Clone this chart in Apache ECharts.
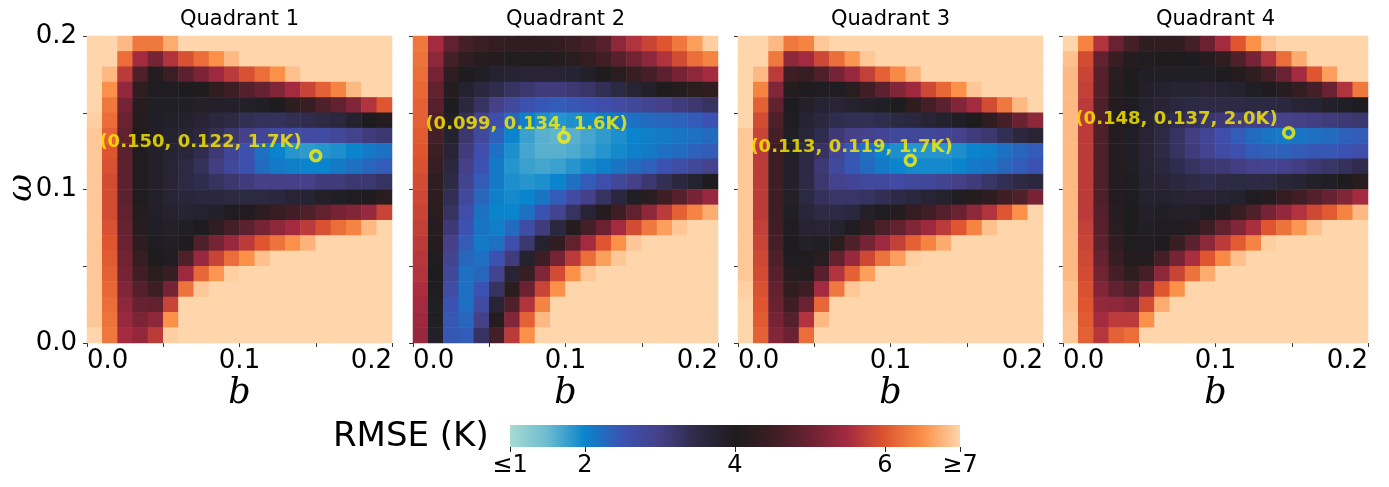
<!DOCTYPE html>
<html>
<head>
<meta charset="utf-8">
<title>RMSE quadrants</title>
<script src="https://cdn.jsdelivr.net/npm/echarts/dist/echarts.min.js"></script>
<style>
  html, body { margin: 0; padding: 0; background: #fff; }
  #chart { width: 1389px; height: 487px; }
</style>
</head>
<body>
<div id="chart"></div>
<script>
// panel titles
const titles = ['Quadrant 1', 'Quadrant 2', 'Quadrant 3', 'Quadrant 4'];

// cell centres of the 20 x 20 grid (b across, omega up)
const bCells = [0.005, 0.015, 0.025, 0.035, 0.045, 0.055, 0.065, 0.075, 0.085, 0.095,
  0.105, 0.115, 0.125, 0.135, 0.145, 0.155, 0.165, 0.175, 0.185, 0.195];
const wCells = [0.005, 0.015, 0.025, 0.035, 0.045, 0.055, 0.065, 0.075, 0.085, 0.095,
  0.105, 0.115, 0.125, 0.135, 0.145, 0.155, 0.165, 0.175, 0.185, 0.195];

// RMSE (K), rows from omega = 0.2 (top) down to 0
const q1 = [
  [7,7,6.8,6.3,6.3,6.7,7,7,7,7,7,7,7,7,7,7,7,7,7,7],
  [7,7,6.2,5.5,5.1,5.6,5.95,6.2,6.5,6.8,7,7,7,7,7,7,7,7,7,7],
  [7,6.8,5.7,4.7,4.1,4.45,4.85,5.15,5.45,5.7,5.95,6.2,6.5,6.85,7,7,7,7,7,7],
  [7,6.5,5.35,4.3,3.95,3.95,4.0,4.0,4.3,4.5,4.75,4.95,5.2,5.5,5.8,6.1,6.4,6.8,7,7],
  [7,6.3,5.1,4.15,3.9,3.9,3.9,3.85,3.85,3.85,3.85,3.9,4.0,4.25,4.4,4.7,4.9,5.2,5.6,6.0],
  [6.95,6.2,5.0,4.1,3.9,3.85,3.8,3.7,3.6,3.5,3.4,3.35,3.35,3.4,3.45,3.5,3.6,3.8,4.0,4.1],
  [6.9,6.1,4.9,4.05,3.88,3.8,3.7,3.6,3.4,3.2,3.0,2.85,2.7,2.7,2.7,2.7,2.8,2.95,3.1,3.2],
  [6.9,6.0,4.85,4.05,3.86,3.75,3.65,3.45,3.15,2.85,2.55,2.2,2.0,1.85,1.8,1.85,1.9,2.0,2.1,2.2],
  [6.9,5.95,4.85,4.05,3.85,3.72,3.55,3.35,3.05,2.8,2.55,2.25,2.1,2.05,2.0,2.0,2.1,2.2,2.3,2.4],
  [6.9,5.9,4.85,4.05,3.85,3.7,3.55,3.45,3.3,3.2,3.1,3.0,3.0,3.0,3.0,3.1,3.1,3.2,3.2,3.3],
  [6.9,5.9,4.85,4.05,3.86,3.72,3.65,3.6,3.6,3.55,3.55,3.55,3.6,3.7,3.75,3.85,3.9,3.95,4.0,4.2],
  [6.9,5.9,4.9,4.1,3.88,3.78,3.75,3.8,3.85,3.95,4.05,4.25,4.4,4.55,4.7,4.9,5.1,5.2,5.4,5.8],
  [6.9,5.95,4.95,4.15,3.9,3.85,3.9,4.0,4.3,4.6,4.85,5.1,5.3,5.5,5.7,5.95,6.2,6.4,6.8,7],
  [6.9,6.0,5.0,4.25,3.95,3.92,4.0,4.7,5.1,5.4,5.7,6.0,6.25,6.5,6.75,7,7,7,7,7],
  [6.9,6.05,5.05,4.4,4.0,3.98,4.7,5.4,5.8,6.2,6.5,6.85,7,7,7,7,7,7,7,7],
  [6.9,6.1,5.1,4.55,4.2,4.4,5.45,6.15,6.55,6.95,7,7,7,7,7,7,7,7,7,7],
  [6.9,6.15,5.2,4.75,4.5,5.1,6.25,6.9,7,7,7,7,7,7,7,7,7,7,7,7],
  [6.9,6.2,5.3,4.95,4.9,5.8,7,7,7,7,7,7,7,7,7,7,7,7,7,7],
  [6.9,6.25,5.4,5.15,5.3,6.5,7,7,7,7,7,7,7,7,7,7,7,7,7,7],
  [7,6.3,5.5,5.35,5.7,6.95,7,7,7,7,7,7,7,7,7,7,7,7,7,7]
];
const q2 = [
  [6.3,5.5,4.9,4.6,4.45,4.35,4.3,4.3,4.3,4.35,4.45,4.6,4.8,5.3,5.6,5.8,6.0,6.3,6.6,6.95],
  [6.25,5.3,4.6,4.3,4.15,4.1,4.05,4.05,4.05,4.1,4.2,4.35,4.55,4.8,5.05,5.3,5.6,5.9,6.2,6.4],
  [6.2,5.1,4.3,4.0,3.9,3.8,3.75,3.7,3.7,3.7,3.75,3.85,4.0,4.2,4.4,4.6,4.85,5.1,5.3,5.5],
  [6.15,4.9,4.1,3.8,3.6,3.45,3.3,3.2,3.1,3.1,3.15,3.25,3.4,3.55,3.7,3.85,4.0,4.1,4.2,4.3],
  [6.1,4.8,4.0,3.6,3.3,3.0,2.75,2.55,2.45,2.4,2.45,2.5,2.6,2.7,2.8,2.9,3.0,3.1,3.2,3.3],
  [6.1,4.7,3.9,3.4,2.95,2.6,2.3,2.05,1.9,1.85,1.9,1.95,2.05,2.1,2.2,2.25,2.3,2.35,2.4,2.5],
  [6.05,4.6,3.8,3.2,2.75,2.35,2.0,1.75,1.6,1.55,1.6,1.7,1.8,1.9,2.0,2.05,2.1,2.15,2.2,2.25],
  [6.0,4.5,3.7,3.1,2.6,2.2,1.9,1.7,1.6,1.6,1.65,1.75,1.85,1.95,2.05,2.1,2.2,2.25,2.35,2.4],
  [5.95,4.4,3.6,3.0,2.5,2.1,1.85,1.75,1.7,1.75,1.85,1.95,2.05,2.15,2.25,2.35,2.5,2.65,2.8,2.95],
  [5.9,4.3,3.5,2.9,2.4,2.1,1.9,1.85,1.9,2.0,2.2,2.4,2.6,2.8,3.0,3.2,3.4,3.6,3.8,4.0],
  [5.85,4.25,3.4,2.75,2.3,2.05,1.95,2.0,2.15,2.4,2.7,3.0,3.3,3.6,3.9,4.2,4.5,4.8,5.1,5.4],
  [5.8,4.2,3.3,2.6,2.2,2.0,2.0,2.2,2.5,2.9,3.3,3.7,4.1,4.5,4.9,5.3,5.7,6.1,6.4,6.7],
  [5.75,4.15,3.15,2.5,2.15,2.05,2.25,2.65,3.1,3.6,4.1,4.6,5.0,5.5,5.9,6.3,6.6,6.9,7,7],
  [5.7,4.1,3.0,2.4,2.1,2.2,2.6,3.2,3.8,4.3,4.9,5.5,6.0,6.5,6.9,7,7,7,7,7],
  [5.65,4.05,2.9,2.3,2.2,2.5,3.1,3.8,4.5,5.1,5.7,6.2,6.6,6.9,7,7,7,7,7,7],
  [5.6,4.0,2.8,2.2,2.3,2.9,3.7,4.4,5.2,5.9,6.5,6.9,7,7,7,7,7,7,7,7],
  [5.55,3.95,2.65,2.2,2.5,3.3,4.2,5.0,5.8,6.5,7,7,7,7,7,7,7,7,7,7],
  [5.5,3.9,2.5,2.2,2.7,3.7,4.7,5.6,6.4,7,7,7,7,7,7,7,7,7,7,7],
  [5.45,3.9,2.45,2.3,3.0,4.1,5.2,6.1,6.8,7,7,7,7,7,7,7,7,7,7,7],
  [5.4,3.85,2.45,2.4,3.3,4.6,5.7,6.5,7,7,7,7,7,7,7,7,7,7,7,7]
];
const q3 = [
  [7,7,6.8,6.3,6.4,6.9,7,7,7,7,7,7,7,7,7,7,7,7,7,7],
  [7,7,6.3,5.3,5.5,5.85,6.2,6.55,6.9,7,7,7,7,7,7,7,7,7,7,7],
  [7,6.8,5.7,4.5,4.4,4.7,5.1,5.4,5.75,6.1,6.45,6.75,7,7,7,7,7,7,7,7],
  [7,6.4,5.2,4.1,4.0,3.95,3.95,4.2,4.55,4.85,5.2,5.45,5.85,6.15,6.5,6.9,7,7,7,7],
  [7,6.1,4.9,4.0,3.85,3.75,3.7,3.8,3.85,3.9,4.0,4.25,4.6,4.85,5.2,5.5,5.9,6.3,6.8,7],
  [7,5.9,4.7,3.95,3.75,3.6,3.45,3.4,3.4,3.45,3.55,3.6,3.7,3.8,3.9,4.0,4.3,4.6,5.0,5.3],
  [6.9,5.8,4.6,3.9,3.65,3.45,3.15,3.0,2.95,2.85,2.8,2.8,2.8,2.85,2.95,3.1,3.2,3.4,3.6,3.7],
  [6.9,5.7,4.5,3.85,3.55,3.3,2.85,2.45,2.2,2.0,1.9,1.85,1.85,1.85,1.9,2.0,2.05,2.2,2.3,2.4],
  [6.9,5.7,4.5,3.85,3.5,3.15,2.75,2.45,2.25,2.1,2.0,1.95,1.95,1.95,2.0,2.1,2.15,2.3,2.4,2.5],
  [6.9,5.7,4.5,3.85,3.5,3.2,2.95,2.85,2.75,2.75,2.7,2.75,2.8,2.9,3.0,3.1,3.25,3.4,3.5,3.6],
  [6.9,5.7,4.5,3.85,3.55,3.35,3.25,3.25,3.3,3.4,3.5,3.6,3.7,3.8,3.95,4.1,4.25,4.5,4.7,5.1],
  [6.9,5.7,4.5,3.9,3.65,3.5,3.5,3.6,3.85,3.95,4.1,4.35,4.55,4.75,5.0,5.3,5.6,6.0,6.5,7],
  [6.9,5.75,4.55,3.95,3.75,3.7,3.8,3.95,4.3,4.65,4.9,5.2,5.45,5.7,6.0,6.4,6.85,7,7,7],
  [6.9,5.8,4.6,4.0,3.85,3.9,4.2,4.7,5.1,5.45,5.75,6.1,6.4,6.7,7,7,7,7,7,7],
  [6.9,5.85,4.7,4.05,3.95,4.2,4.9,5.4,5.85,6.25,6.6,6.95,7,7,7,7,7,7,7,7],
  [6.9,5.9,4.8,4.15,4.1,4.8,5.6,6.1,6.6,7,7,7,7,7,7,7,7,7,7,7],
  [6.95,5.95,4.9,4.3,4.5,5.5,6.3,6.9,7,7,7,7,7,7,7,7,7,7,7,7],
  [7,6.0,5.0,4.5,5.0,6.15,7,7,7,7,7,7,7,7,7,7,7,7,7,7],
  [7,6.05,5.1,4.75,5.6,6.8,7,7,7,7,7,7,7,7,7,7,7,7,7,7],
  [7,6.1,5.2,5.0,6.2,7,7,7,7,7,7,7,7,7,7,7,7,7,7,7]
];
const q4 = [
  [7,6.4,5.6,5.0,4.6,4.3,4.3,4.3,4.6,5.0,5.5,6.0,6.5,6.9,7,7,7,7,7,7],
  [6.85,5.9,4.9,4.4,4.1,4.05,4.0,4.0,4.0,4.1,4.3,4.7,5.1,5.6,6.2,6.7,7,7,7,7],
  [6.8,5.8,4.8,4.2,4.0,3.9,3.9,3.9,3.9,3.9,4.0,4.1,4.3,4.6,5.0,5.5,6.0,6.6,7,7],
  [6.8,5.75,4.75,4.15,4.0,3.85,3.8,3.75,3.75,3.7,3.75,3.8,3.9,4.0,4.15,4.35,4.6,5.0,5.6,6.3],
  [6.8,5.7,4.7,4.1,3.95,3.8,3.7,3.6,3.55,3.5,3.5,3.5,3.55,3.55,3.6,3.7,3.75,3.85,3.9,4.0],
  [6.8,5.7,4.7,4.1,3.95,3.75,3.6,3.45,3.35,3.25,3.15,3.05,3.0,2.95,2.95,3.0,3.05,3.1,3.15,3.2],
  [6.8,5.7,4.7,4.1,3.9,3.7,3.5,3.3,3.05,2.85,2.6,2.4,2.25,2.15,2.1,2.15,2.2,2.25,2.35,2.4],
  [6.8,5.7,4.7,4.1,3.9,3.7,3.5,3.3,3.1,2.9,2.7,2.55,2.4,2.35,2.35,2.4,2.45,2.45,2.5,2.6],
  [6.8,5.7,4.7,4.1,3.9,3.72,3.6,3.45,3.3,3.2,3.15,3.05,2.95,2.9,2.95,3.05,3.15,3.25,3.35,3.45],
  [6.8,5.7,4.7,4.1,3.95,3.75,3.7,3.6,3.5,3.45,3.5,3.55,3.5,3.55,3.65,3.75,3.85,3.9,4.0,4.2],
  [6.8,5.7,4.7,4.1,3.95,3.8,3.8,3.75,3.7,3.7,3.75,3.8,3.95,4.1,4.35,4.55,4.75,4.95,5.2,5.5],
  [6.8,5.7,4.75,4.15,4.0,3.85,3.9,3.85,3.85,3.95,4.15,4.4,4.7,5.1,5.35,5.6,5.85,6.05,6.4,6.8],
  [6.8,5.75,4.8,4.2,4.0,3.9,3.95,3.95,4.15,4.5,4.9,5.2,5.55,6.0,6.25,6.55,6.85,7,7,7],
  [6.8,5.8,4.85,4.3,4.05,3.95,4.0,4.4,4.85,5.3,5.7,6.05,6.4,6.95,7,7,7,7,7,7],
  [6.8,5.85,4.95,4.4,4.1,4.1,4.6,5.1,5.55,6.0,6.45,6.85,7,7,7,7,7,7,7,7],
  [6.8,5.9,5.05,4.6,4.3,4.6,5.3,5.8,6.25,6.7,7,7,7,7,7,7,7,7,7,7],
  [6.85,5.95,5.2,4.9,4.7,5.2,6.0,6.5,7,7,7,7,7,7,7,7,7,7,7,7],
  [6.85,6.0,5.35,5.3,5.2,5.9,6.7,7,7,7,7,7,7,7,7,7,7,7,7,7],
  [6.9,6.05,5.5,5.7,5.7,6.5,7,7,7,7,7,7,7,7,7,7,7,7,7,7],
  [6.9,6.1,5.65,6.1,6.2,7,7,7,7,7,7,7,7,7,7,7,7,7,7,7]
];

// best fit per quadrant: b, omega, RMSE (K)
const bestB = [0.150, 0.099, 0.113, 0.148];
const bestW = [0.122, 0.134, 0.119, 0.137];
const bestRmse = [1.7, 1.6, 1.7, 2.0];

// colour bar
const cbTicks = [1, 2, 4, 6, 7];
const rmseColors = ['#a8dad3', '#6bbbcf', '#0a84cc', '#3c52b2', '#454088', '#2e2a46', '#1e1c1e',
  '#3c1e24', '#6a2232', '#a42a40', '#de5530', '#fb9048', '#ffd5ab'];

const sans = 'DejaVu Sans';
const serif = 'DejaVu Serif';
const yellow = '#fff000';
const panelLeft = [87, 413, 738, 1063];
const panelTop = 36, panelW = 305, panelH = 307;
const noteB = 0.0078; // annotation text starts near the left edge

const grids = [], xAxes = [], yAxes = [], series = [], graphics = [];

panelLeft.forEach((left, i) => {
  grids.push({ left: left, top: panelTop, width: panelW, height: panelH });

  xAxes.push({ type: 'category', gridIndex: i, position: 'top', data: bCells, show: false });
  xAxes.push({
    type: 'value', gridIndex: i, position: 'bottom', min: 0, max: 0.2, interval: 0.05,
    axisLine: { show: false }, splitLine: { show: false },
    axisTick: { show: true, length: 4, lineStyle: { color: '#333' } },
    axisLabel: {
      fontFamily: sans, fontSize: 26, color: '#000', margin: 5,
      alignMinLabel: 'left', alignMaxLabel: 'right',
      formatter: v => (Math.round(v * 100) % 10 === 0 ? v.toFixed(1) : '')
    }
  });
  yAxes.push({ type: 'category', gridIndex: i, position: 'right', data: wCells, show: false });
  yAxes.push({
    type: 'value', gridIndex: i, position: 'left', min: 0, max: 0.2, interval: 0.05,
    axisLine: { show: false }, splitLine: { show: false },
    axisTick: { show: true, length: 4, lineStyle: { color: '#333' } },
    axisLabel: {
      show: i === 0, fontFamily: sans, fontSize: 26, color: '#000', margin: 10,
      formatter: v => (Math.round(v * 100) % 10 === 0 ? v.toFixed(1) : '')
    }
  });

  graphics.push({
    type: 'text', x: left + panelW / 2, y: 20,
    style: { text: titles[i], font: '21px "' + sans + '"', fill: '#000',
      align: 'center', verticalAlign: 'middle', textAlign: 'center', textVerticalAlign: 'middle' }
  });
  graphics.push({
    type: 'text', x: left + panelW / 2, y: 394,
    style: { text: 'b', font: 'italic 35px "' + serif + '"', fill: '#000',
      align: 'center', verticalAlign: 'middle', textAlign: 'center', textVerticalAlign: 'middle' }
  });
});

[q1, q2, q3, q4].forEach((q, i) => {
  const cells = [];
  q.forEach((row, r) => row.forEach((v, c) => cells.push([c, q.length - 1 - r, v])));
  series.push({
    type: 'heatmap', xAxisIndex: 2 * i, yAxisIndex: 2 * i, data: cells,
    emphasis: { disabled: true }, silent: true
  });
});

panelLeft.forEach((left, i) => {
  series.push({
    type: 'scatter', xAxisIndex: 2 * i + 1, yAxisIndex: 2 * i + 1,
    data: [[bestB[i], bestW[i]]], symbol: 'circle', symbolSize: 10, silent: true,
    itemStyle: { color: 'rgba(0,0,0,0)', borderColor: yellow, borderWidth: 3.5 }, z: 5
  });
  series.push({
    type: 'scatter', xAxisIndex: 2 * i + 1, yAxisIndex: 2 * i + 1,
    data: [[noteB, bestW[i]]], symbolSize: 1, silent: true,
    itemStyle: { color: 'rgba(0,0,0,0)' }, z: 6,
    label: {
      show: true, position: 'right', distance: 0, offset: [0, -13],
      fontFamily: sans, fontWeight: 'bold', fontSize: 18, color: yellow,
      formatter: () => '(' + bestB[i].toFixed(3) + ', ' + bestW[i].toFixed(3) + ', ' + bestRmse[i].toFixed(1) + 'K)'
    }
  });
});

// colour bar axis
grids.push({ left: 510, top: 425, width: 450, height: 22 });
xAxes.push({
  type: 'value', gridIndex: 4, position: 'bottom', min: 1, max: 7,
  axisLine: { show: false }, splitLine: { show: false },
  axisTick: { show: true, length: 5, customValues: cbTicks, lineStyle: { color: '#222' } },
  axisLabel: {
    customValues: cbTicks, fontFamily: sans, fontSize: 24, color: '#000', margin: 7,
    formatter: v => (v === 1 ? '≤1' : v === 7 ? '≥7' : String(v))
  }
});
yAxes.push({ type: 'value', gridIndex: 4, show: false, min: 0, max: 1 });

graphics.push({
  type: 'rect', shape: { x: 510, y: 425, width: 450, height: 22 }, z: -1,
  style: {
    fill: {
      type: 'linear', x: 0, y: 0, x2: 1, y2: 0,
      colorStops: rmseColors.map((c, k) => ({ offset: k / (rmseColors.length - 1), color: c }))
    }
  }
});
graphics.push({
  type: 'text', x: 333, y: 437,
  style: { text: 'RMSE (K)', font: '34px "' + sans + '"', fill: '#000',
    align: 'left', verticalAlign: 'middle', textAlign: 'left', textVerticalAlign: 'middle' }
});
graphics.push({
  type: 'text', x: 22, y: 188, rotation: Math.PI / 2,
  style: { text: 'ω', font: 'italic 34px "' + serif + '"', fill: '#000',
    align: 'center', verticalAlign: 'middle', textAlign: 'center', textVerticalAlign: 'middle' }
});

const chart = echarts.init(document.getElementById('chart'));
chart.setOption({
  animation: false,
  backgroundColor: '#fff',
  grid: grids,
  xAxis: xAxes,
  yAxis: yAxes,
  visualMap: {
    type: 'continuous', show: false, min: 1, max: 7, dimension: 2,
    seriesIndex: [0, 1, 2, 3], inRange: { color: rmseColors }
  },
  series: series,
  graphic: graphics
});
</script>
</body>
</html>
